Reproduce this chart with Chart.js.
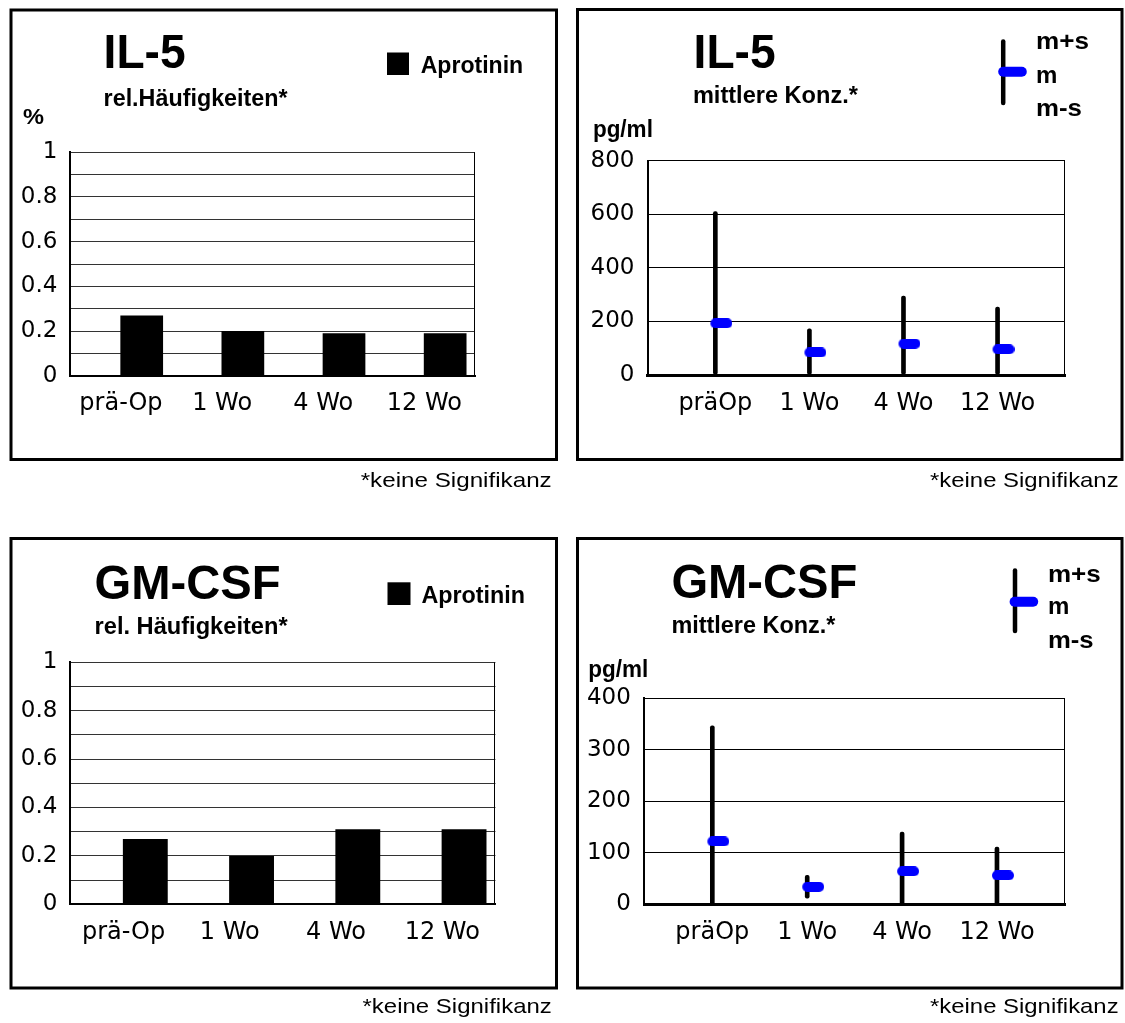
<!DOCTYPE html>
<html><head><meta charset="utf-8">
<script src="https://cdn.jsdelivr.net/npm/chart.js@4.4.0/dist/chart.umd.min.js"></script>
<style>
html,body{margin:0;padding:0;background:#fff;}
body{width:1125px;height:1023px;position:relative;overflow:hidden;}
canvas{position:absolute;}
svg{position:absolute;left:0;top:0;pointer-events:none;}
</style></head><body>
<canvas id="c1" width="542" height="446" style="left:13px;top:12px;width:542px;height:446px"></canvas>
<canvas id="c2" width="540" height="446" style="left:580px;top:12px;width:540px;height:446px"></canvas>
<canvas id="c3" width="542" height="446" style="left:13px;top:541px;width:542px;height:446px"></canvas>
<canvas id="c4" width="540" height="446" style="left:580px;top:541px;width:540px;height:446px"></canvas>
<svg width="1125" height="1023" font-family="'Liberation Sans', Arial, sans-serif">
  <g fill="none" stroke="#000" stroke-width="3">
    <rect x="11" y="10" width="545.5" height="449.5"/>
    <rect x="577.5" y="9.5" width="544.5" height="450"/>
    <rect x="11" y="538.5" width="545.5" height="449.5"/>
    <rect x="577.5" y="538.5" width="544.5" height="449.5"/>
  </g>
  <!-- top left -->
  <text x="103.6" y="68.3" font-size="48" font-weight="bold" textLength="82" lengthAdjust="spacingAndGlyphs">IL-5</text>
  <text x="103.6" y="106" font-size="23" font-weight="bold" textLength="184" lengthAdjust="spacingAndGlyphs">rel.Häufigkeiten*</text>
  <text x="23" y="124" font-size="22" font-weight="bold" textLength="21" lengthAdjust="spacingAndGlyphs">%</text>
  <rect x="387" y="52.5" width="22" height="22.5" fill="#000"/>
  <text x="420.7" y="73.3" font-size="23" font-weight="bold" textLength="102.5" lengthAdjust="spacingAndGlyphs">Aprotinin</text>
  <text x="360.7" y="487" font-size="21" textLength="191" lengthAdjust="spacingAndGlyphs">*keine Signifikanz</text>
  <!-- top right -->
  <text x="693.6" y="68.3" font-size="48" font-weight="bold" textLength="82" lengthAdjust="spacingAndGlyphs">IL-5</text>
  <text x="692.9" y="103" font-size="23" font-weight="bold" textLength="165" lengthAdjust="spacingAndGlyphs">mittlere Konz.*</text>
  <text x="592.9" y="137" font-size="23" font-weight="bold" textLength="60" lengthAdjust="spacingAndGlyphs">pg/ml</text>
  <line x1="1003.2" y1="41.5" x2="1003.2" y2="103" stroke="#000" stroke-width="4.5" stroke-linecap="round"/>
  <line x1="1003.2" y1="71.7" x2="1021.8" y2="71.7" stroke="#0000ff" stroke-width="10" stroke-linecap="round"/>
  <text x="1036" y="49" font-size="24" font-weight="bold" textLength="53" lengthAdjust="spacingAndGlyphs">m+s</text>
  <text x="1036" y="83" font-size="24" font-weight="bold">m</text>
  <text x="1036" y="115.5" font-size="24" font-weight="bold" textLength="46" lengthAdjust="spacingAndGlyphs">m-s</text>
  <text x="930" y="487" font-size="21" textLength="188.6" lengthAdjust="spacingAndGlyphs">*keine Signifikanz</text>
  <!-- bottom left -->
  <text x="94.6" y="599" font-size="48" font-weight="bold" textLength="186" lengthAdjust="spacingAndGlyphs">GM-CSF</text>
  <text x="94.6" y="634" font-size="23" font-weight="bold" textLength="193" lengthAdjust="spacingAndGlyphs">rel. Häufigkeiten*</text>
  <rect x="387.5" y="582.3" width="23" height="22.7" fill="#000"/>
  <text x="421.4" y="603.3" font-size="23" font-weight="bold" textLength="103.6" lengthAdjust="spacingAndGlyphs">Aprotinin</text>
  <text x="362.5" y="1013" font-size="21" textLength="189.3" lengthAdjust="spacingAndGlyphs">*keine Signifikanz</text>
  <!-- bottom right -->
  <text x="671.4" y="598.3" font-size="48" font-weight="bold" textLength="186" lengthAdjust="spacingAndGlyphs">GM-CSF</text>
  <text x="671.4" y="633" font-size="23" font-weight="bold" textLength="164" lengthAdjust="spacingAndGlyphs">mittlere Konz.*</text>
  <text x="588.2" y="677" font-size="23" font-weight="bold" textLength="60" lengthAdjust="spacingAndGlyphs">pg/ml</text>
  <line x1="1015" y1="570.5" x2="1015" y2="631" stroke="#000" stroke-width="4.5" stroke-linecap="round"/>
  <line x1="1014.6" y1="601.7" x2="1033.2" y2="601.7" stroke="#0000ff" stroke-width="10" stroke-linecap="round"/>
  <text x="1047.9" y="581.7" font-size="24" font-weight="bold" textLength="52.8" lengthAdjust="spacingAndGlyphs">m+s</text>
  <text x="1047.9" y="614.3" font-size="24" font-weight="bold">m</text>
  <text x="1047.9" y="647.5" font-size="24" font-weight="bold" textLength="45.7" lengthAdjust="spacingAndGlyphs">m-s</text>
  <text x="930" y="1013" font-size="21" textLength="188.6" lengthAdjust="spacingAndGlyphs">*keine Signifikanz</text>
</svg>
<script>
// ---- data ----
const freqCategories = ['prä-Op', '1 Wo', '4 Wo', '12 Wo'];
const concCategories = ['präOp', '1 Wo', '4 Wo', '12 Wo'];
const il5Freq = [0.27, 0.20, 0.19, 0.19];
const gmcsfFreq = [0.27, 0.20, 0.31, 0.31];
const il5Mean = [193, 84, 117, 96];
const il5Upper = [610, 172, 295, 254];
const il5Lower = [0, 0, 0, 0];
const gmcsfMean = [122, 34, 64, 56];
const gmcsfUpper = [346, 56, 140, 111];
const gmcsfLower = [0, 12, 0, 0];
const freqTicks = [0, 0.2, 0.4, 0.6, 0.8, 1];

const X_FONT = {family: "'DejaVu Sans', sans-serif", size: 24};
const Y_FONT = {family: "'DejaVu Sans', sans-serif", size: 23};

const frame = {
  id: 'frame',
  afterDraw(chart) {
    const {ctx, chartArea: a} = chart;
    ctx.save();
    ctx.strokeStyle = '#000';
    ctx.lineWidth = 1;
    const x = Math.round(a.right) - 0.5;
    ctx.beginPath();
    ctx.moveTo(x, a.top);
    ctx.lineTo(x, a.bottom);
    ctx.stroke();
    ctx.restore();
  }
};

function layoutOpts(W, H, area) {
  return {padding: {left: 0, top: area.T, right: W - area.R, bottom: 0}};
}

function freqChart(id, W, H, area, values) {
  new Chart(document.getElementById(id), {
    type: 'bar',
    data: {
      labels: freqCategories,
      datasets: [
        {label: '', data: [], backgroundColor: '#fff'},
        {label: 'Aprotinin', data: values, backgroundColor: '#000', borderWidth: 0}
      ]
    },
    options: {
      responsive: false, animation: false, devicePixelRatio: 1,
      layout: layoutOpts(W, H, area),
      datasets: {bar: {categoryPercentage: 0.82, barPercentage: 1.03}},
      plugins: {legend: {display: false}, tooltip: {enabled: false}, title: {display: false}},
      scales: {
        x: {
          type: 'category', offset: true,
          grid: {display: false, drawTicks: false},
          border: {display: true, color: '#000', width: 2},
          ticks: {color: '#000', font: X_FONT, padding: 14, maxRotation: 0, autoSkip: false},
          afterFit: s => { s.height = H - area.B; }
        },
        y: {
          min: 0, max: 1,
          grid: {color: '#333', lineWidth: 1, drawTicks: false},
          border: {display: true, color: '#000', width: 2},
          ticks: {
            stepSize: 0.1, autoSkip: false, color: '#000', font: Y_FONT, padding: 13,
            callback: v => freqTicks.some(t => Math.abs(t - v) < 1e-6) ? String(+v.toFixed(1)) : ''
          },
          afterFit: s => { s.width = area.L; }
        }
      }
    },
    plugins: [frame]
  });
}

const pill = document.createElement('canvas');
pill.width = 34; pill.height = 10;
(function () {
  const p = pill.getContext('2d');
  p.strokeStyle = '#0000ff';
  p.lineWidth = 10;
  p.lineCap = 'round';
  p.beginPath();
  p.moveTo(17, 5);
  p.lineTo(29, 5);
  p.stroke();
})();

function concChart(id, W, H, area, mean, upper, lower, yMax, yStep) {
  new Chart(document.getElementById(id), {
    type: 'bar',
    data: {
      datasets: [
        {
          type: 'bar', label: 'm±s',
          data: upper.map((u, i) => ({x: i, y: [lower[i], u]})),
          backgroundColor: '#000', barThickness: 4, borderRadius: 2, borderSkipped: false, order: 1
        },
        {
          type: 'scatter', label: 'm',
          data: mean.map((m, i) => ({x: i, y: m})),
          pointStyle: pill, pointRadius: 5, order: 0
        }
      ]
    },
    options: {
      responsive: false, animation: false, devicePixelRatio: 1,
      layout: layoutOpts(W, H, area),
      plugins: {legend: {display: false}, tooltip: {enabled: false}, title: {display: false}},
      scales: {
        x: {
          type: 'linear', min: -0.717, max: 3.717, offset: false,
          grid: {display: false, drawTicks: false},
          border: {display: true, color: '#000', width: 3},
          afterBuildTicks: s => { s.ticks = concCategories.map((c, i) => ({value: i})); },
          ticks: {
            color: '#000', font: X_FONT, padding: 14, maxRotation: 0, autoSkip: false,
            callback: v => concCategories[v]
          },
          afterFit: s => { s.height = H - area.B; }
        },
        y: {
          min: 0, max: yMax,
          grid: {color: '#000', lineWidth: 1, drawTicks: false},
          border: {display: true, color: '#000', width: 2},
          ticks: {stepSize: yStep, autoSkip: false, color: '#000', font: Y_FONT, padding: 13.5},
          afterFit: s => { s.width = area.L; }
        }
      }
    },
    plugins: [frame]
  });
}

freqChart('c1', 542, 446, {L: 57.4, R: 462, T: 140.3, B: 363.7}, il5Freq);
concChart('c2', 540, 446, {L: 67.9, R: 485, T: 148.7, B: 363}, il5Mean, il5Upper, il5Lower, 800, 200);
freqChart('c3', 542, 446, {L: 57.4, R: 482.4, T: 121.3, B: 363.3}, gmcsfFreq);
concChart('c4', 540, 446, {L: 64.3, R: 485, T: 157, B: 363.3}, gmcsfMean, gmcsfUpper, gmcsfLower, 400, 100);
</script>
</body></html>
